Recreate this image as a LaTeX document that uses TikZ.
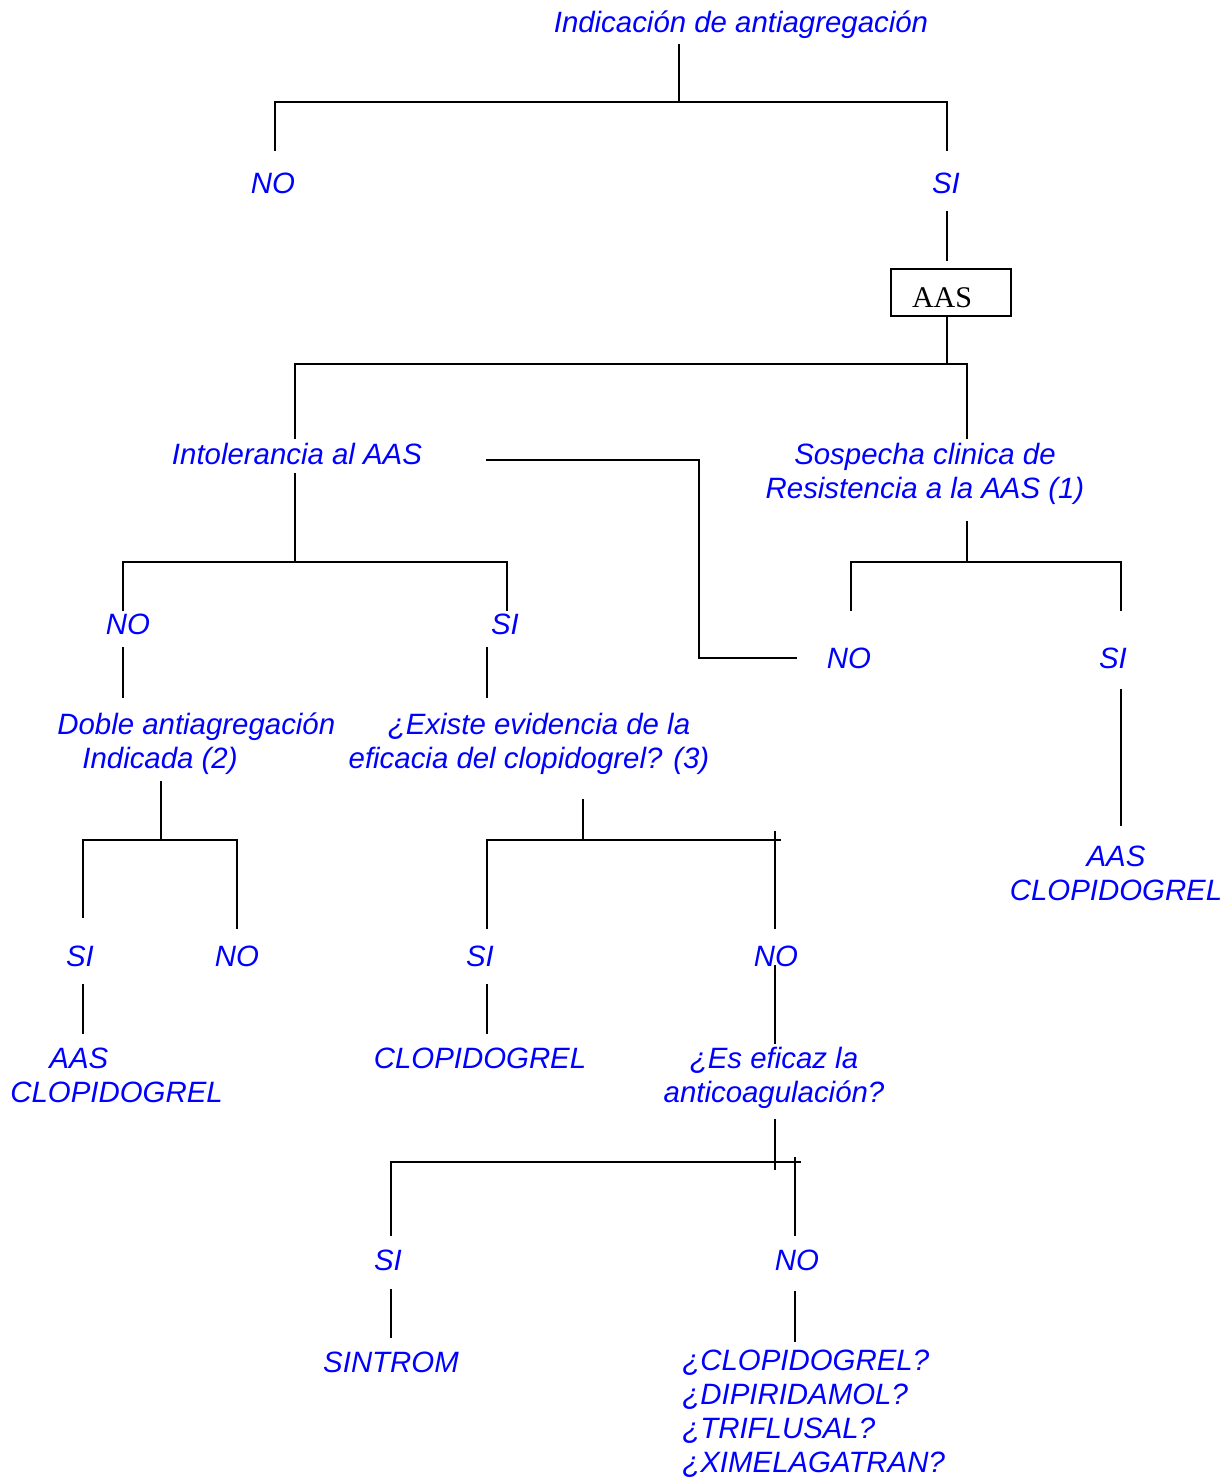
\documentclass[tikz,border=0pt]{standalone}
\usepackage{fontspec}
\setmainfont{Liberation Sans}
\newfontfamily\boxfont{Liberation Serif}
\begin{document}
\begin{tikzpicture}[x=0.5pt,y=-0.5pt,
  lbl/.style={font=\fontsize{14.7pt}{17pt}\selectfont\itshape, text=blue, inner sep=0pt, anchor=base},
  ln/.style={line width=1pt, line cap=rect},
  aasbox/.style={draw, line width=1pt, font=\boxfont\fontsize{15pt}{18pt}\selectfont, minimum width=60pt, minimum height=23.5pt, inner sep=0pt, text height=14.5pt, text depth=0pt}]
\useasboundingbox (0,0) rectangle (1230,1477);
\fill[white] (0,0) rectangle (1230,1477);

% ---------- texts (multi-line nodes are placed by their last baseline) ----------
\node[lbl] (title) at (741,33) {Indicación de antiagregación};
\node[lbl] (no1) at (273,193) {NO};
\node[lbl] (si1) at (946,193) {SI};
\node[aasbox] (aas) at (951,292.5) {AAS\hspace*{9pt}};
\node[lbl] (intol) at (297,464) {Intolerancia al AAS};
\node[lbl, align=center] (sosp) at (925,498) {Sospecha clinica de\\Resistencia a la AAS (1)};
\node[lbl] (no2) at (128,634) {NO};
\node[lbl] (si2) at (505,634) {SI};
\node[lbl] (no3) at (849,668) {NO};
\node[lbl] (si3) at (1113,668) {SI};
\node[lbl, anchor=base west, align=left] (doble) at (57,768) {Doble antiagregación\\\hspace*{12.5pt}Indicada (2)};
\node[lbl, align=center] (exist) at (529,768) {\hspace*{10pt}¿Existe evidencia de la\\eficacia del clopidogrel? (3)};
\node[lbl, align=center] (aasclopR) at (1116,900) {AAS\\CLOPIDOGREL};
\node[lbl] (si4) at (80,966) {SI};
\node[lbl] (no4) at (237,966) {NO};
\node[lbl] (si5) at (480,966) {SI};
\node[lbl] (no5) at (776,966) {NO};
\node[lbl, anchor=base west, align=left] (aasclopL) at (10,1102) {\hspace*{19.5pt}AAS\\CLOPIDOGREL};
\node[lbl] (clop) at (480,1068) {CLOPIDOGREL};
\node[lbl, align=center] (eficaz) at (774,1102) {¿Es eficaz la\\anticoagulación?};
\node[lbl] (si6) at (388,1270) {SI};
\node[lbl] (no6) at (797,1270) {NO};
\node[lbl] (sintrom) at (391,1372) {SINTROM};
\node[lbl, anchor=base west, align=left] (lista) at (682,1472) {¿CLOPIDOGREL?\\¿DIPIRIDAMOL?\\¿TRIFLUSAL?\\¿XIMELAGATRAN?};

% ---------- connector end points ----------
\coordinate (a1) at (679,45);   \coordinate (a2) at (679,102);
\coordinate (b1) at (275,150);  \coordinate (b2) at (275,102);
\coordinate (b3) at (947,102);  \coordinate (b4) at (947,150);
\coordinate (c1) at (947,212);  \coordinate (c2) at (947,260);
\coordinate (d1) at (947,316);  \coordinate (d2) at (947,364);
\coordinate (e1) at (295,438);  \coordinate (e2) at (295,364);
\coordinate (e3) at (967,364);  \coordinate (e4) at (967,438);
\coordinate (f1) at (487,460);  \coordinate (f2) at (699,460);
\coordinate (f3) at (699,658);  \coordinate (f4) at (796,658);
\coordinate (g1) at (295,474);  \coordinate (g2) at (295,562);
\coordinate (h1) at (123,610);  \coordinate (h2) at (123,562);
\coordinate (h3) at (507,562);  \coordinate (h4) at (507,610);
\coordinate (i1) at (967,522);  \coordinate (i2) at (967,562);
\coordinate (j1) at (851,610);  \coordinate (j2) at (851,562);
\coordinate (j3) at (1121,562); \coordinate (j4) at (1121,610);
\coordinate (k1) at (123,648);  \coordinate (k2) at (123,697);
\coordinate (k3) at (487,648);  \coordinate (k4) at (487,697);
\coordinate (l1) at (1121,690); \coordinate (l2) at (1121,825);
\coordinate (m1) at (161,782);  \coordinate (m2) at (161,840);
\coordinate (n1) at (83,917);   \coordinate (n2) at (83,840);
\coordinate (n3) at (237,840);  \coordinate (n4) at (237,928);
\coordinate (o1) at (583,800);  \coordinate (o2) at (583,840);
\coordinate (p1) at (487,928);  \coordinate (p2) at (487,840);
\coordinate (p3) at (780,840);
\coordinate (q1) at (775,832);  \coordinate (q2) at (775,928);
\coordinate (r1) at (83,985);   \coordinate (r2) at (83,1033);
\coordinate (r3) at (487,985);  \coordinate (r4) at (487,1033);
\coordinate (r5) at (775,966);  \coordinate (r6) at (775,1043);
\coordinate (s1) at (775,1120); \coordinate (s2) at (775,1169);
\coordinate (t1) at (391,1235); \coordinate (t2) at (391,1162);
\coordinate (t3) at (800,1162);
\coordinate (u1) at (795,1158); \coordinate (u2) at (795,1235);
\coordinate (v1) at (391,1290); \coordinate (v2) at (391,1337);
\coordinate (v3) at (795,1292); \coordinate (v4) at (795,1341);

% ---------- connectors ----------
\draw[ln] (a1) -- (a2);
\draw[ln] (b1) -- (b2) -- (b3) -- (b4);
\draw[ln] (c1) -- (c2);
\draw[ln] (d1) -- (d2);
\draw[ln] (e1) -- (e2) -- (e3) -- (e4);
\draw[ln] (f1) -- (f2) -- (f3) -- (f4);
\draw[ln] (g1) -- (g2);
\draw[ln] (h1) -- (h2) -- (h3) -- (h4);
\draw[ln] (i1) -- (i2);
\draw[ln] (j1) -- (j2) -- (j3) -- (j4);
\draw[ln] (k1) -- (k2);
\draw[ln] (k3) -- (k4);
\draw[ln] (l1) -- (l2);
\draw[ln] (m1) -- (m2);
\draw[ln] (n1) -- (n2) -- (n3) -- (n4);
\draw[ln] (o1) -- (o2);
\draw[ln] (p1) -- (p2) -- (p3);
\draw[ln] (q1) -- (q2);
\draw[ln] (r1) -- (r2);
\draw[ln] (r3) -- (r4);
\draw[ln] (r5) -- (r6);
\draw[ln] (s1) -- (s2);
\draw[ln] (t1) -- (t2) -- (t3);
\draw[ln] (u1) -- (u2);
\draw[ln] (v1) -- (v2);
\draw[ln] (v3) -- (v4);
\end{tikzpicture}
\end{document}
